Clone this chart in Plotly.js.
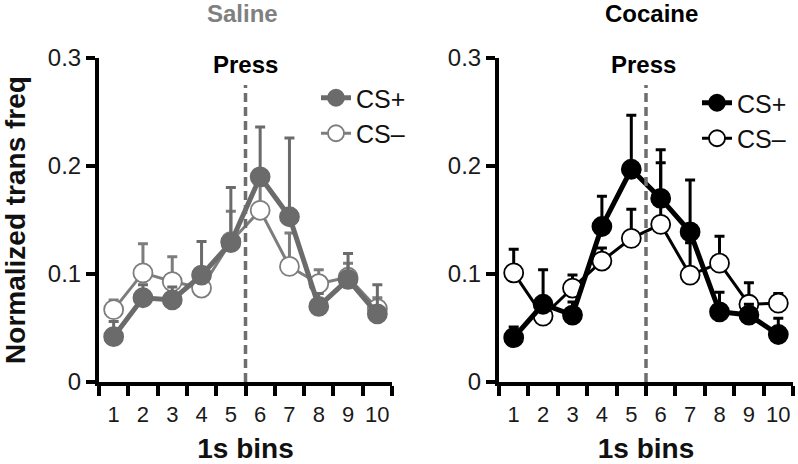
<!DOCTYPE html>
<html>
<head>
<meta charset="utf-8">
<script src="https://cdn.plot.ly/plotly-3.0.1.min.js"></script>
<style>html,body{margin:0;padding:0;background:#fff;}#chart{width:798px;height:464px;}</style>
</head>
<body>
<div id="chart"></div>
<script>
const bins = [1, 2, 3, 4, 5, 6, 7, 8, 9, 10];
const xTickLabels = ['1','2','3','4','5','6','7','8','9','10'];
const yTickVals = [0, 0.1, 0.2, 0.3];
const yTickText = ['0', '0.1', '0.2', '0.3'];
const pressBin = 5.5;
const seriesNames = ['CS+', 'CS\u2013'];
const panelTitles = ['Saline', 'Cocaine'];
const xTitle = '1s bins';
const yTitle = 'Normalized trans freq';
const pressLabel = 'Press';

// Saline
const salinePlusMean  = [0.042, 0.078, 0.076, 0.099, 0.129, 0.190, 0.153, 0.070, 0.095, 0.063];
const salinePlusErr   = [0.014, 0.012, 0.012, 0.031, 0.051, 0.046, 0.073, 0.012, 0.024, 0.027];
const salineMinusMean = [0.067, 0.101, 0.093, 0.087, 0.130, 0.159, 0.107, 0.091, 0.097, 0.068];
const salineMinusErr  = [0.009, 0.027, 0.023, 0.010, 0.028, 0.025, 0.031, 0.013, 0.013, 0.010];

// Cocaine
const cocainePlusMean  = [0.041, 0.072, 0.062, 0.144, 0.197, 0.170, 0.139, 0.065, 0.062, 0.044];
const cocainePlusErr   = [0.010, 0.032, 0.012, 0.028, 0.050, 0.045, 0.048, 0.018, 0.010, 0.015];
const cocaineMinusMean = [0.101, 0.061, 0.087, 0.112, 0.133, 0.146, 0.099, 0.110, 0.072, 0.073];
const cocaineMinusErr  = [0.022, 0.010, 0.012, 0.012, 0.027, 0.057, 0.030, 0.025, 0.020, 0.009];

const FONT = 'Liberation Sans, Arial, Helvetica, sans-serif';
const salineGray = '#6b6b6b';
const salineOpenGray = '#7d7d7d';
const zeros = bins.map(() => 0);

function trace(x, y, err, opts) {
  return {
    type: 'scatter', mode: 'lines+markers', x: x, y: y,
    name: opts.name, xaxis: opts.xaxis, yaxis: opts.yaxis, legend: opts.legend,
    legendrank: opts.rank, cliponaxis: false,
    line: {color: opts.color, width: opts.lw},
    marker: {symbol: 'circle', size: 19, color: opts.fill, line: {color: opts.color, width: 1.8}},
    error_y: {type: 'data', symmetric: false, array: err, arrayminus: zeros,
              color: opts.color, thickness: 3, width: 5},
    hoverinfo: 'skip'
  };
}

const data = [
  trace(bins, salineMinusMean, salineMinusErr, {name: seriesNames[1], xaxis: 'x', yaxis: 'y', legend: 'legend', rank: 2, color: salineOpenGray, fill: '#ffffff', lw: 3}),
  trace(bins, salinePlusMean, salinePlusErr, {name: seriesNames[0], xaxis: 'x', yaxis: 'y', legend: 'legend', rank: 1, color: salineGray, fill: salineGray, lw: 5}),
  trace(bins, cocaineMinusMean, cocaineMinusErr, {name: seriesNames[1], xaxis: 'x2', yaxis: 'y2', legend: 'legend2', rank: 2, color: '#000000', fill: '#ffffff', lw: 3}),
  trace(bins, cocainePlusMean, cocainePlusErr, {name: seriesNames[0], xaxis: 'x2', yaxis: 'y2', legend: 'legend2', rank: 1, color: '#000000', fill: '#000000', lw: 5})
];

function xAxis(domain, anchor) {
  return {
    domain: domain, anchor: anchor, range: [0.5, 10.5], fixedrange: true,
    tickmode: 'array', tickvals: bins, ticktext: xTickLabels,
    ticks: 'outside', ticklen: 10, tickcolor: 'rgba(0,0,0,0)', tickwidth: 4,
    minor: {tickmode: 'linear', tick0: 0.5, dtick: 1, ticks: 'outside', ticklen: 10, tickwidth: 4, tickcolor: '#000', showgrid: false},
    showline: true, linecolor: '#000', linewidth: 4, showgrid: false, zeroline: false,
    tickfont: {family: FONT, size: 22, color: '#1a1a1a'},
    title: {text: xTitle, font: {family: FONT, size: 28, color: '#111', weight: 'bold'}, standoff: 14}
  };
}
function yAxis(domain, anchor, withTitle) {
  const a = {
    domain: domain, anchor: anchor, range: [0, 0.3], fixedrange: true,
    tickmode: 'array', tickvals: yTickVals, ticktext: yTickText,
    ticks: 'outside', ticklen: 9, tickwidth: 4, tickcolor: '#000',
    showline: true, linecolor: '#000', linewidth: 4, showgrid: false, zeroline: false,
    tickfont: {family: FONT, size: 24, color: '#1a1a1a'}
  };
  if (withTitle) a.title = {text: yTitle, font: {family: FONT, size: 28, color: '#111', weight: 'bold'}, standoff: 16};
  return a;
}

const yDom = [1 - 382 / 464, 1 - 58 / 464];
const layout = {
  width: 798, height: 464,
  margin: {l: 0, r: 0, t: 0, b: 0},
  paper_bgcolor: '#fff', plot_bgcolor: '#fff',
  font: {family: FONT, color: '#000'},
  xaxis: xAxis([99 / 798, 392 / 798], 'y'),
  yaxis: yAxis(yDom, 'x', true),
  xaxis2: xAxis([499 / 798, 793 / 798], 'y2'),
  yaxis2: yAxis(yDom, 'x2', false),
  legend: {x: 316 / 798, y: 1 - 75 / 464, xanchor: 'left', yanchor: 'top', bgcolor: 'rgba(0,0,0,0)',
           font: {family: FONT, size: 25, color: '#111'}, itemclick: false, itemdoubleclick: false},
  legend2: {x: 697 / 798, y: 1 - 80 / 464, xanchor: 'left', yanchor: 'top', bgcolor: 'rgba(0,0,0,0)',
           font: {family: FONT, size: 25, color: '#111'}, itemclick: false, itemdoubleclick: false},
  shapes: [
    {type: 'line', xref: 'x', yref: 'y', x0: pressBin, x1: pressBin, y0: 0, y1: 0.275, line: {color: '#6e6e6e', width: 3.5, dash: '9px,5px'}},
    {type: 'line', xref: 'x2', yref: 'y2', x0: pressBin, x1: pressBin, y0: 0, y1: 0.275, line: {color: '#6e6e6e', width: 3.5, dash: '9px,5px'}}
  ],
  annotations: [
    {text: panelTitles[0], xref: 'paper', yref: 'paper', x: 242 / 798, y: 1 - 13 / 464, xanchor: 'center', yanchor: 'middle', showarrow: false,
     font: {family: FONT, size: 24, color: '#808080', weight: 'bold'}},
    {text: panelTitles[1], xref: 'paper', yref: 'paper', x: 651 / 798, y: 1 - 13 / 464, xanchor: 'center', yanchor: 'middle', showarrow: false,
     font: {family: FONT, size: 24, color: '#000', weight: 'bold'}},
    {text: pressLabel, xref: 'x', yref: 'y', x: pressBin, y: 0.294, xanchor: 'center', yanchor: 'middle', showarrow: false,
     font: {family: FONT, size: 24, color: '#000', weight: 'bold'}},
    {text: pressLabel, xref: 'x2', yref: 'y2', x: pressBin - 0.1, y: 0.294, xanchor: 'center', yanchor: 'middle', showarrow: false,
     font: {family: FONT, size: 24, color: '#000', weight: 'bold'}}
  ],
  showlegend: true
};

Plotly.newPlot('chart', data, layout, {staticPlot: true, displayModeBar: false});
</script>
</body>
</html>
